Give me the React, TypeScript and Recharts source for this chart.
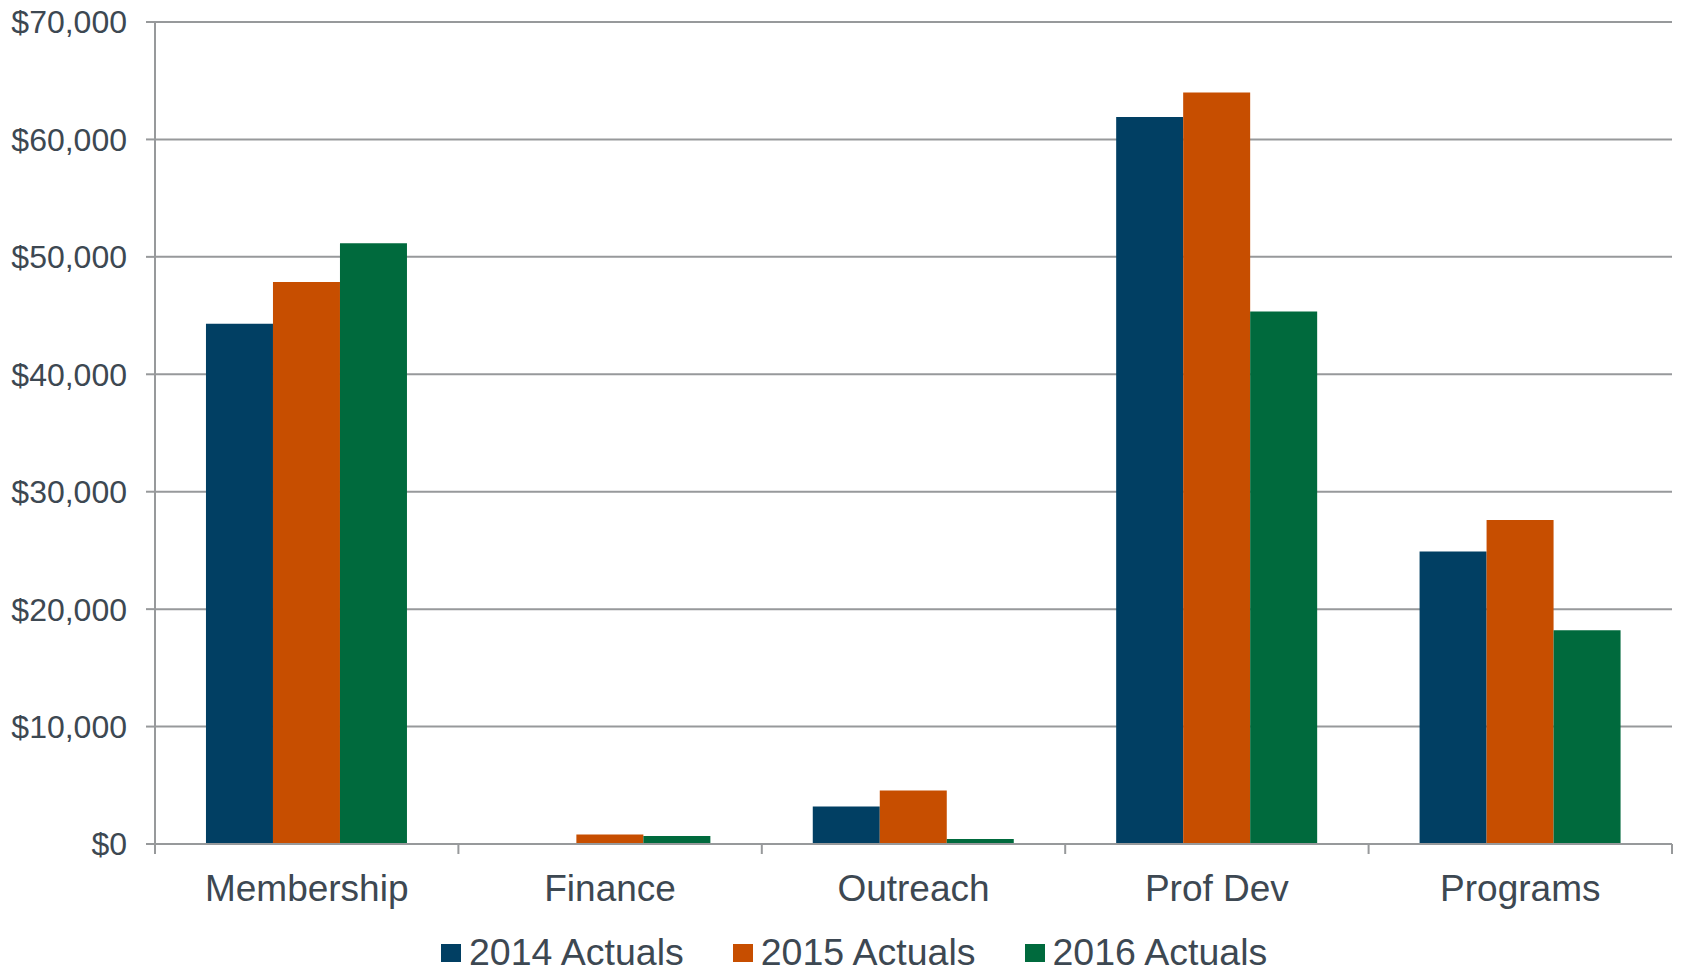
import React from 'react';
import { BarChart, Bar, XAxis, YAxis, CartesianGrid } from 'recharts';

const categories = ['Membership', 'Finance', 'Outreach', 'Prof Dev', 'Programs'];
const actuals2014 = [44300, 0, 3200, 61900, 24900];
const actuals2015 = [47850, 800, 4550, 64000, 27600];
const actuals2016 = [51150, 680, 430, 45350, 18200];
const yTicks = [0, 10000, 20000, 30000, 40000, 50000, 60000, 70000];

const seriesNames = ['2014 Actuals', '2015 Actuals', '2016 Actuals'];
const seriesKeys = ['a2014', 'a2015', 'a2016'];
const seriesColors = ['#013f63', '#c74e00', '#006a3d'];

const data = categories.map((c, i) => ({
  name: c,
  a2014: actuals2014[i],
  a2015: actuals2015[i],
  a2016: actuals2016[i],
}));

const TEXT = '#3d4852';
const GRID = '#97999b';
const FONT = '"Liberation Sans", Arial, sans-serif';
const X_TICK_MARGIN = 25;
const X_TICK_SIZE = 6;
const X_TICK_LEN = 10;

const fmt = (v: number) => '$' + v.toLocaleString('en-US');

function CategoryTick(props: any) {
  const { x, y, payload, index, visibleTicksCount, width } = props;
  const n = visibleTicksCount || categories.length;
  const bw = (width || 1517) / n;
  const axisY = y - X_TICK_MARGIN - X_TICK_SIZE;
  const left = x - bw / 2;
  const right = x + bw / 2;
  return (
    <g>
      <line x1={left} x2={left} y1={axisY} y2={axisY + X_TICK_LEN} stroke={GRID} strokeWidth={2} />
      {index === n - 1 && (
        <line x1={right} x2={right} y1={axisY} y2={axisY + X_TICK_LEN} stroke={GRID} strokeWidth={2} />
      )}
      <text x={x} y={y} dy="0.71em" textAnchor="middle" fill={TEXT} fontSize={37} fontFamily={FONT}>
        {payload.value}
      </text>
    </g>
  );
}

export default function App() {
  return (
    <div style={{ position: 'absolute', left: 0, top: 0, width: 1687, height: 971, background: '#fff', fontFamily: FONT }}>
      <BarChart
        width={1680}
        height={960}
        data={data}
        margin={{ top: 22, right: 8, bottom: 56, left: 0 }}
        barGap={0}
        barCategoryGap="16.8%"
      >
        <CartesianGrid vertical={false} stroke={GRID} strokeWidth={2} />
        <XAxis
          dataKey="name"
          height={60}
          interval={0}
          tickLine={false}
          tickSize={X_TICK_SIZE}
          tickMargin={X_TICK_MARGIN}
          axisLine={{ stroke: GRID, strokeWidth: 2 }}
          tick={<CategoryTick />}
        />
        <YAxis
          width={155}
          domain={[0, 70000]}
          ticks={yTicks}
          interval={0}
          tickFormatter={fmt}
          tickSize={9}
          tickMargin={19}
          tickLine={{ stroke: GRID, strokeWidth: 2 }}
          axisLine={{ stroke: GRID, strokeWidth: 2 }}
          tick={{ fill: TEXT, fontSize: 32, fontFamily: FONT }}
        />
        {seriesKeys.map((k, i) => (
          <Bar key={k} dataKey={k} name={seriesNames[i]} fill={seriesColors[i]} isAnimationActive={false} />
        ))}
      </BarChart>
      <div
        style={{
          position: 'absolute',
          left: 441,
          top: 934,
          display: 'flex',
          alignItems: 'center',
          fontFamily: FONT,
          fontSize: 37.5,
          lineHeight: '37px',
          color: TEXT,
        }}
      >
        {seriesNames.map((n, i) => (
          <div key={n} style={{ display: 'flex', alignItems: 'center', marginRight: i < 2 ? 49 : 0 }}>
            <div style={{ width: 20, height: 18, background: seriesColors[i], marginRight: 8 }} />
            <span>{n}</span>
          </div>
        ))}
      </div>
    </div>
  );
}
